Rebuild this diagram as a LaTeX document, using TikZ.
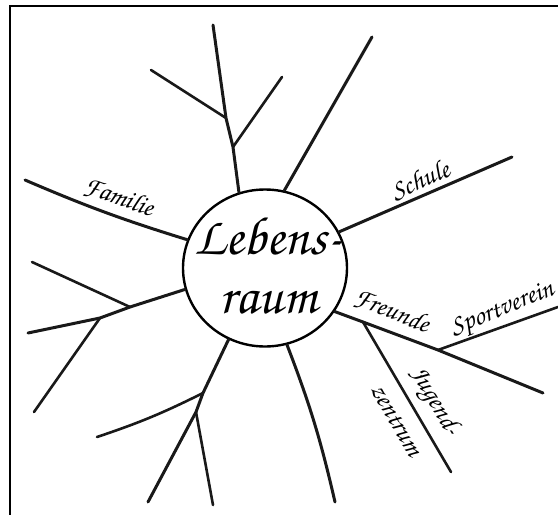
\documentclass[tikz,border=0pt]{standalone}
\usepackage[T1]{fontenc}
\usepackage{tikz}
\usetikzlibrary{shapes.geometric, positioning, calc}

\begin{document}
\begin{tikzpicture}[
    x=1pt, y=-1pt,
    branch/.style={line width=3pt, line cap=round, line join=round, draw=black!90},
    twig/.style={line width=2.6pt, line cap=round, draw=black!90},
    centre/.style={draw, ellipse, line width=2.4pt, minimum width=164pt, minimum height=157pt, inner sep=0pt},
    bigword/.style={font=\fontfamily{pzc}\fontseries{mb}\fontshape{it}\fontsize{54}{58}\selectfont, inner sep=0pt},
    label/.style={font=\fontfamily{pzc}\fontseries{mb}\fontshape{it}\fontsize{27}{30}\selectfont, inner sep=0pt}
  ]
    \useasboundingbox (0,0) rectangle (558,515);
    % Frame
    \draw[line width=2pt] (10,515) -- (10,6) -- (558,6);

    % Centre
    \node[centre] (lebensraum) at (265,268) {};
    \node[bigword] (lebens) at (268,236) {Lebens-};
    \node[bigword] (raum) at (268,302) {raum};

    % Coordinates of branches
    \coordinate (topA) at (233,147);
    \coordinate (topB) at (226,118);
    \coordinate (topEnd) at (213,25);
    \coordinate (topL) at (151,70);
    \coordinate (topR) at (282,77);
    \coordinate (nne) at (372,37);
    \coordinate (schule) at (512,157);
    \coordinate (familie) at (25,180);
    \coordinate (wA) at (130,307);
    \coordinate (wB) at (100,318);
    \coordinate (wEnd) at (28,333);
    \coordinate (wUp) at (32,262);
    \coordinate (wDown) at (34,412);
    \coordinate (sA) at (203,393);
    \coordinate (sB) at (196,412);
    \coordinate (sL) at (97,437);
    \coordinate (sE1) at (148,502);
    \coordinate (sE2) at (213,505);
    \coordinate (sse) at (335,502);
    \coordinate (fJ) at (363,322);
    \coordinate (fS) at (438,350);
    \coordinate (fEnd) at (543,393);
    \coordinate (jugend) at (451,472);
    \coordinate (sport) at (558,307);

    % Branches
    \draw[branch] (lebensraum.109) -- (topA) -- (topB) -- (topEnd);
    \draw[twig] (topB) -- (topL);
    \draw[twig] (topA) -- (topR);
    \draw[branch] (lebensraum.76) -- (nne);
    \draw[branch] (lebensraum.26) -- (schule);
    \draw[branch] (lebensraum.160) to[bend left=3] (familie);
    \draw[branch] (lebensraum.195) -- (wA) -- (wB) -- (wEnd);
    \draw[twig] (wA) -- (wUp);
    \draw[twig] (wB) -- (wDown);
    \draw[branch] (lebensraum.243) -- (sA) -- (sB) -- (sE1);
    \draw[twig] (sA) to[bend left=4] (sL);
    \draw[twig] (sB) -- (sE2);
    \draw[branch] (lebensraum.286) to[bend left=4] (sse);
    \draw[branch] (lebensraum.328) -- (fJ) -- (fS) -- (fEnd);
    \draw[twig] (fJ) -- (jugend);
    \draw[twig] (fS) -- (sport);

    % Labels
    \node[label, rotate=-20] (famlabel) at (119,197) {Familie};
    \node[label, rotate=24] (schlabel) at (420,180) {Schule};
    \node[label, rotate=-22] (frlabel) at (392,311) {Freunde};
    \node[label, rotate=22] (splabel) at (503,311) {Sportverein};
    \node[label, rotate=-60] (jglabel) at (434,402) {Jugend-};
    \node[label, rotate=-60] (ztlabel) at (396,420) {zentrum};
\end{tikzpicture}
\end{document}
